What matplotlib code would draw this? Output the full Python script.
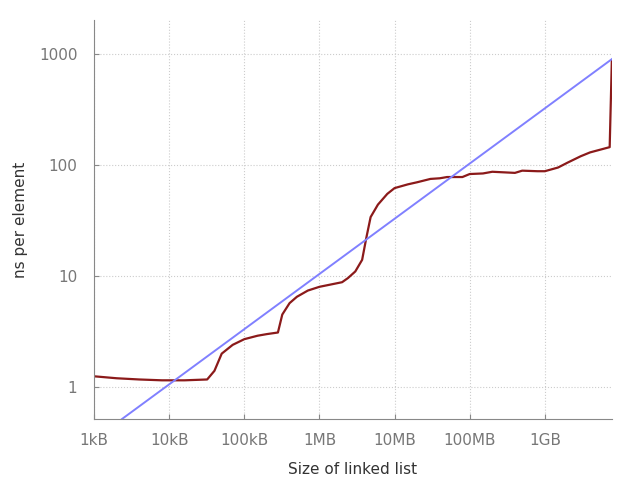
import matplotlib
matplotlib.use("Agg")
import matplotlib.pyplot as plt

# measured curve: list size in bytes, ns per element
size_bytes = [1e3, 2e3, 4e3, 8e3, 16e3, 32e3, 40e3, 50e3, 70e3, 100e3, 150e3, 200e3, 280e3,
              320e3, 400e3, 500e3, 700e3, 1e6, 2e6, 2.4e6, 3e6, 3.7e6, 4.2e6, 4.8e6, 6e6, 8e6,
              10e6, 15e6, 20e6, 30e6, 40e6, 50e6, 80e6, 100e6, 150e6, 200e6, 400e6, 500e6,
              800e6, 1e9, 1.5e9, 2e9, 3e9, 4e9, 7.3e9, 7.8e9]
ns_per_elem = [1.25, 1.2, 1.17, 1.15, 1.15, 1.17, 1.4, 2.0, 2.4, 2.7, 2.9, 3.0, 3.1,
               4.5, 5.7, 6.5, 7.4, 8.0, 8.8, 9.6, 11, 14, 22, 34, 44, 55,
               62, 67, 70, 75, 76, 78, 78, 83, 84, 87, 85, 89,
               88, 88, 95, 105, 120, 130, 145, 880]

# reference sqrt line endpoints
ref_x = [2.35e3, 7.8e9]
ref_y = [0.515, 900]

tick_pos = [1e3, 1e4, 1e5, 1e6, 1e7, 1e8, 1e9]
tick_lab = ["1kB", "10kB", "100kB", "1MB", "10MB", "100MB", "1GB"]

fig, ax = plt.subplots(figsize=(6.4, 4.8), dpi=100)
fig.subplots_adjust(left=0.147, right=0.956, top=0.958, bottom=0.127)
ax.plot(size_bytes, ns_per_elem, color="#8b1a1a", lw=1.6)
ax.plot(ref_x, ref_y, color="#8080ff", lw=1.4)
ax.set_xscale("log")
ax.set_yscale("log")
ax.set_xlim(1e3, 7.8e9)
ax.set_ylim(0.515, 2020)
ax.set_xticks(tick_pos)
ax.set_xticklabels(tick_lab)
ax.set_yticks([1, 10, 100, 1000])
ax.set_yticklabels(["1", "10", "100", "1000"])
ax.minorticks_off()
ax.grid(True, linestyle=":", color="#cccccc", lw=0.8)
for s in ["top", "right"]:
    ax.spines[s].set_visible(False)
for s in ["left", "bottom"]:
    ax.spines[s].set_color("#888888")
ax.tick_params(colors="#888888", labelcolor="#777777", labelsize=11, direction="in")
ax.tick_params(axis="y", pad=12)
ax.tick_params(axis="x", pad=10)
ax.set_xlabel("Size of linked list", fontsize=11, color="#333333", labelpad=10)
ax.set_ylabel("ns per element", fontsize=11, color="#333333", labelpad=8)
fig.savefig("out.png")
